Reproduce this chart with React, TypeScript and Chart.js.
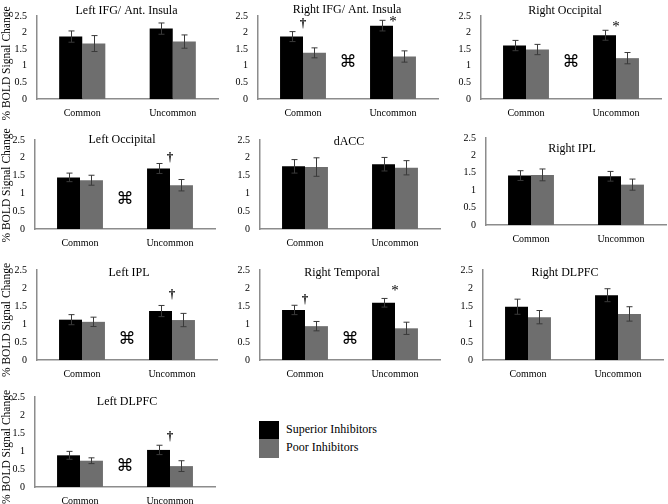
import React, { useEffect, useRef } from 'react';
import { Chart, registerables } from 'chart.js';
Chart.register(...registerables);

const categories = ['Common', 'Uncommon'];
const seriesNames = ['Superior Inhibitors', 'Poor Inhibitors'];
const yAxisLabel = '% BOLD Signal Change';
const yMin = 0;
const yMax = 2.5;
const yStep = 0.5;

const regionNames = [
  'Left IFG/ Ant. Insula', 'Right IFG/ Ant. Insula', 'Right Occipital',
  'Left Occipital', 'dACC', 'Right IPL',
  'Left IPL', 'Right Temporal', 'Right DLPFC',
  'Left DLPFC',
];

// values per region: [Common, Uncommon]
const superiorMeans = [
  [1.88, 2.12], [1.88, 2.21], [1.61, 1.92],
  [1.45, 1.70], [1.76, 1.82], [1.42, 1.40],
  [1.12, 1.36], [1.39, 1.59], [1.48, 1.80],
  [0.88, 1.03],
];
const superiorErrors = [
  [0.17, 0.17], [0.15, 0.16], [0.155, 0.15],
  [0.12, 0.14], [0.19, 0.19], [0.14, 0.14],
  [0.14, 0.155], [0.13, 0.12], [0.21, 0.18],
  [0.11, 0.13],
];
const poorMeans = [
  [1.67, 1.73], [1.39, 1.28], [1.49, 1.23],
  [1.37, 1.23], [1.74, 1.72], [1.44, 1.16],
  [1.06, 1.11], [0.94, 0.88], [1.19, 1.28],
  [0.73, 0.58],
];
const poorErrors = [
  [0.24, 0.2], [0.15, 0.17], [0.155, 0.17],
  [0.14, 0.16], [0.26, 0.2], [0.17, 0.16],
  [0.13, 0.185], [0.13, 0.17], [0.185, 0.2],
  [0.08, 0.15],
];

// significance markers: region index, category position, value, symbol
const markerRegion = [1, 1, 1, 2, 2, 3, 3, 6, 6, 7, 7, 7, 9, 9];
const markerCat = [0, 1, 0.5, 1, 0.5, 1, 0.5, 1, 0.5, 0, 1, 0.5, 1, 0.5];
const markerValue = [2.26, 2.40, 1.09, 2.27, 1.09, 2.01, 0.84, 1.82, 0.56, 1.68, 2.0, 0.56, 1.40, 0.58];
const markerSymbol = ['†', '*', '⌘', '*', '⌘', '†', '⌘', '†', '⌘', '†', '*', '⌘', '†', '⌘'];

// ---- layout (page pixels) ----
// canvas: [x, y, w, h]; area: [left, top, right, bottom]
const canvasRects = [
  [0, 0, 222, 122], [222, 0, 222, 122], [444, 0, 224, 122],
  [0, 122, 222, 128], [222, 122, 222, 128], [444, 122, 224, 128],
  [0, 250, 222, 130], [222, 250, 222, 130], [444, 250, 224, 130],
  [0, 380, 222, 124],
];
const areaRects = [
  [37, 12, 218, 99], [258, 12, 438, 99], [481, 12, 661, 99],
  [35, 140, 215, 229], [260, 140, 440, 229], [486, 135, 666, 225],
  [37, 270, 217, 360], [260, 270, 440, 360], [483, 270, 663, 360],
  [35, 397, 215, 487],
];
const titleOffsets = [
  [-1, -5], [-1, -6], [-6, -5],
  [-3, 0], [-1, 2], [-4, 11],
  [2, 3], [-8, 3], [-8, 3],
  [2, 5],
];
const showYLabel = [true, false, false, true, false, false, true, false, false, true];
const yLabelShift = [6, 0, 0, 1, 0, 0, 5, 0, 0, 5];

const SERIF = "'Liberation Serif', 'Times New Roman', serif";
const BLACK = '#000000';
const GRAY = '#6e6e6e';
const AXIS = '#8c8c8c';
const ERR = '#3a3a3a';

const decorPlugin = {
  id: 'decor',
  afterDatasetsDraw(chart: any, _args: any, opts: any) {
    const ctx = chart.ctx;
    const xs = chart.scales.x;
    const ys = chart.scales.y;
    const area = chart.chartArea;
    ctx.save();
    // error bars
    opts.errors.forEach((errs: number[], di: number) => {
      const meta = chart.getDatasetMeta(di);
      meta.data.forEach((bar: any, j: number) => {
        const m = opts.means[di][j];
        const e = errs[j];
        const yt = ys.getPixelForValue(m + e);
        const yb = ys.getPixelForValue(m - e);
        const x = Math.round(bar.x) + 0.5;
        ctx.strokeStyle = ERR;
        ctx.lineWidth = 1;
        ctx.beginPath();
        ctx.moveTo(x, yt); ctx.lineTo(x, yb);
        ctx.moveTo(x - 3, yt); ctx.lineTo(x + 3, yt);
        ctx.moveTo(x - 3, yb); ctx.lineTo(x + 3, yb);
        ctx.stroke();
      });
    });
    // title
    ctx.fillStyle = '#000';
    ctx.textAlign = 'center';
    ctx.textBaseline = 'middle';
    ctx.font = `12px ${SERIF}`;
    ctx.fillText(opts.title, (area.left + area.right) / 2 + opts.titleDx, area.top + opts.titleDy);
    // y label
    if (opts.showYLabel) {
      ctx.save();
      ctx.translate(7, (area.top + area.bottom) / 2 + opts.yLabelShift);
      ctx.rotate(-Math.PI / 2);
      ctx.font = `11.5px ${SERIF}`;
      ctx.fillText(opts.yLabel, 0, 0);
      ctx.restore();
    }
    // markers
    opts.markers.forEach((mk: any) => {
      const x = xs.getPixelForValue(mk.cat);
      const y = ys.getPixelForValue(mk.value);
      if (mk.symbol === '⌘') {
        ctx.font = `17px 'DejaVu Sans', sans-serif`;
        ctx.fillText(mk.symbol, x, y);
      } else if (mk.symbol === '*') {
        ctx.font = `15px ${SERIF}`;
        ctx.fillText(mk.symbol, x, y + 3);
      } else {
        ctx.font = `bold 13px ${SERIF}`;
        ctx.fillText(mk.symbol, x, y);
      }
    });
    ctx.restore();
  },
};

function Panel({ idx }: { idx: number }) {
  const ref = useRef<HTMLCanvasElement>(null);
  const [cx, cy, cw, ch] = canvasRects[idx];
  useEffect(() => {
    const [L, T, R, B] = areaRects[idx];
    const markers: any[] = [];
    markerRegion.forEach((r, k) => {
      if (r === idx) markers.push({ cat: markerCat[k], value: markerValue[k], symbol: markerSymbol[k] });
    });
    const tickFont = { family: SERIF, size: 10 };
    const chart = new Chart(ref.current as HTMLCanvasElement, {
      type: 'bar',
      data: {
        labels: categories,
        datasets: [
          { label: seriesNames[0], data: superiorMeans[idx], backgroundColor: BLACK, categoryPercentage: 0.51, barPercentage: 1.0 },
          { label: seriesNames[1], data: poorMeans[idx], backgroundColor: GRAY, categoryPercentage: 0.51, barPercentage: 1.0 },
        ],
      },
      options: {
        responsive: false,
        animation: false,
        devicePixelRatio: 1,
        layout: { padding: { left: 0, top: T - cy, right: cx + cw - R, bottom: 0 } },
        plugins: {
          legend: { display: false },
          tooltip: { enabled: false },
          title: { display: false },
          decor: {
            title: regionNames[idx],
            titleDx: titleOffsets[idx][0],
            titleDy: titleOffsets[idx][1],
            showYLabel: showYLabel[idx],
            yLabel: yAxisLabel,
            yLabelShift: yLabelShift[idx],
            means: [superiorMeans[idx], poorMeans[idx]],
            errors: [superiorErrors[idx], poorErrors[idx]],
            markers,
          },
        } as any,
        scales: {
          x: {
            grid: { display: false, drawTicks: false },
            border: { display: true, color: AXIS, width: 1.5 },
            ticks: { font: tickFont, color: '#000', padding: 8, maxRotation: 0, autoSkip: false },
            afterFit: (s: any) => { s.height = cy + ch - B; },
          },
          y: {
            min: yMin,
            max: yMax,
            grid: { display: false, drawTicks: false },
            border: { display: true, color: AXIS, width: 1.5 },
            ticks: {
              stepSize: yStep,
              font: { family: SERIF, size: 10 },
              color: '#000',
              padding: 10,
              callback: (v: any) => String(Number(v)),
            },
            afterFit: (s: any) => { s.width = L - cx; },
          },
        },
      },
      plugins: [decorPlugin],
    });
    return () => chart.destroy();
  }, [idx]);
  return (
    <canvas
      ref={ref}
      width={cw}
      height={ch}
      style={{ position: 'absolute', left: cx, top: cy, width: cw, height: ch }}
    />
  );
}

export default function App() {
  const legendTextStyle: React.CSSProperties = {
    position: 'absolute', left: 286, fontFamily: SERIF, fontSize: 12, color: '#000',
    lineHeight: '18px', whiteSpace: 'nowrap',
  };
  return (
    <div style={{ position: 'fixed', left: 0, top: 0, width: 668, height: 504, background: '#fff', overflow: 'hidden' }}>
      {regionNames.map((_, i) => <Panel key={i} idx={i} />)}
      <div style={{ position: 'absolute', left: 259, top: 421, width: 20, height: 18, background: BLACK }} />
      <div style={{ position: 'absolute', left: 259, top: 439, width: 20, height: 19, background: GRAY }} />
      <div style={{ ...legendTextStyle, top: 420 }}>{seriesNames[0]}</div>
      <div style={{ ...legendTextStyle, top: 438 }}>{seriesNames[1]}</div>
    </div>
  );
}
